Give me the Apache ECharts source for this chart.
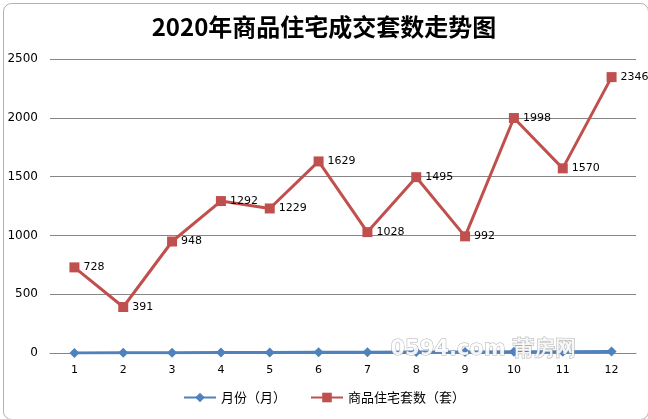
<!DOCTYPE html>
<html><head><meta charset="utf-8">
<script src="https://cdn.jsdelivr.net/npm/echarts@6/dist/echarts.min.js"></script>
<style>html,body{margin:0;padding:0;background:#fff}#c{width:648px;height:419px}</style>
</head><body><div id="c"></div>
<script>
var months = ['1','2','3','4','5','6','7','8','9','10','11','12'];
var monthValues = [1,2,3,4,5,6,7,8,9,10,11,12];
var salesValues = [728,391,948,1292,1229,1629,1028,1495,992,1998,1570,2346];
var yTicks = [0,500,1000,1500,2000,2500];

var chart = echarts.init(document.getElementById('c'));
chart.setOption({
  animation:false,
  backgroundColor:'#fff',
  title:{text:'2020年商品住宅成交套数走势图',left:'center',top:10,
    textStyle:{fontFamily:'Noto Sans CJK SC',fontWeight:'bold',fontSize:24,color:'#000'}},
  grid:{left:50,right:12,top:59,bottom:66},
  legend:{bottom:10,left:'center',itemWidth:32,itemHeight:12,itemGap:24,
    textStyle:{fontFamily:'Noto Sans CJK SC',fontSize:13,color:'#000'},
    data:['月份（月）','商品住宅套数（套）']},
  xAxis:{type:'category',data:months,boundaryGap:true,
    axisLine:{lineStyle:{color:'#868686'}},axisTick:{show:false},
    axisLabel:{color:'#000',fontSize:11,fontFamily:'DejaVu Sans',margin:12}},
  yAxis:{type:'value',min:yTicks[0],max:yTicks[yTicks.length-1],interval:500,
    axisLine:{show:false},axisTick:{show:false},
    axisLabel:{color:'#000',fontSize:12,fontFamily:'DejaVu Sans',margin:12,formatter:function(v){return String(v);}},
    splitLine:{lineStyle:{color:'#868686'}}},
  series:[
    {name:'月份（月）',type:'line',data:monthValues,symbol:'diamond',symbolSize:10,
     itemStyle:{color:'#4F81BD'},lineStyle:{width:3,color:'#4F81BD'},z:3},
    {name:'商品住宅套数（套）',type:'line',data:salesValues,symbol:'rect',symbolSize:10,
     itemStyle:{color:'#C0504D'},lineStyle:{width:3,color:'#C0504D'},
     label:{show:true,position:'right',distance:4,color:'#000',fontSize:11,fontFamily:'DejaVu Sans'},z:4}
  ],
  graphic:[
    {type:'rect',left:1,top:1,shape:{width:645,height:416,r:8},style:{fill:'none',stroke:'#B0B0B0',lineWidth:1},silent:true},
    {type:'text',left:390,top:339,style:{text:'0594.com 莆房网',font:'bold 21px "DejaVu Sans"',fill:'rgba(255,255,255,0.9)',stroke:'rgba(140,140,140,0.7)',lineWidth:1},z:10,silent:true}
  ]
});
</script></body></html>
